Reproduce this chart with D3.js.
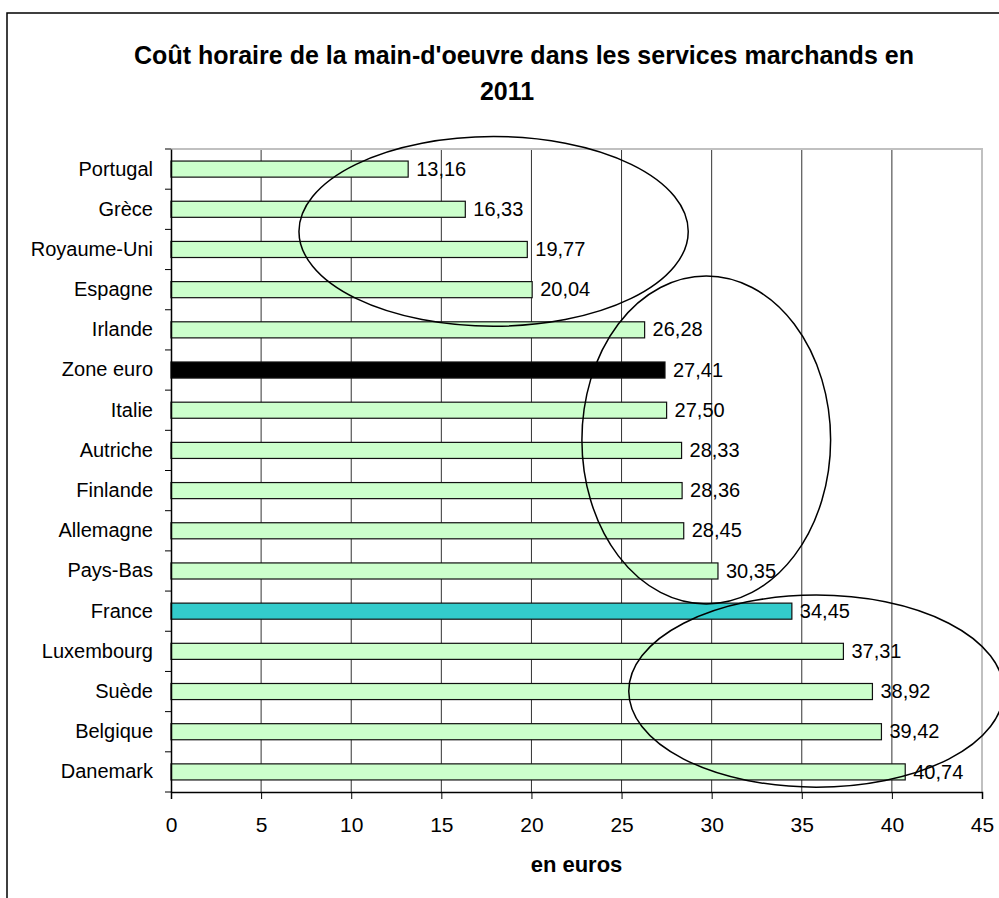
<!DOCTYPE html>
<html>
<head>
<meta charset="utf-8">
<script src="https://cdn.jsdelivr.net/npm/d3@7"></script>
<style>
  body { margin: 0; background: #fff; }
  svg { display: block; font-family: "Liberation Sans", Arial, sans-serif; }
</style>
</head>
<body>
<div id="chart"></div>
<script>
/* Données */
var categories = ["Portugal", "Grèce", "Royaume-Uni", "Espagne", "Irlande", "Zone euro", "Italie", "Autriche",
  "Finlande", "Allemagne", "Pays-Bas", "France", "Luxembourg", "Suède", "Belgique", "Danemark"];
var values = [13.16, 16.33, 19.77, 20.04, 26.28, 27.41, 27.50, 28.33, 28.36, 28.45, 30.35, 34.45, 37.31, 38.92, 39.42, 40.74];
var xTicks = [0, 5, 10, 15, 20, 25, 30, 35, 40, 45];
var titleLines = ["Coût horaire de la main-d'oeuvre dans les services marchands en", "2011"];
var xTitle = "en euros";
/* Ellipses d'annotation : centre (valeur, index de catégorie), rayons (valeur, catégories) */
var ellCx = [17.9, 29.7, 35.8];
var ellCy = [1.55, 6.74, 12.99];
var ellRx = [10.8, 6.9, 10.4];
var ellRy = [2.36, 4.08, 2.39];

var W = 999, H = 898;
var margin = {top: 149, right: 17, bottom: 106, left: 171};

var svg = d3.select("#chart").append("svg").attr("width", W).attr("height", H);

/* Cadre extérieur */
svg.append("rect").attr("x", 7).attr("y", 13).attr("width", 1010).attr("height", 910)
  .attr("fill", "none").attr("stroke", "#000").attr("stroke-width", 1.5);

var x = d3.scaleLinear().domain([0, 45]).range([margin.left, W - margin.right]);
var y = d3.scaleBand().domain(categories).range([margin.top, H - margin.bottom]);

var fr = d3.formatLocale({decimal: ",", thousands: " ", grouping: [3], currency: ["", "€"]});
var fmt = fr.format(".2f");

/* Titre */
var titleX = [524, 507];
svg.append("g").selectAll("text").data(titleLines).enter().append("text")
  .attr("x", function(d, i) { return titleX[i]; }).attr("y", function(d, i) { return 64 + i * 36; })
  .attr("text-anchor", "middle").attr("font-size", "25px").attr("font-weight", "bold")
  .text(function(d) { return d; });

/* Grille */
svg.append("g").selectAll("line").data(xTicks.slice(1, -1)).enter().append("line")
  .attr("x1", function(d) { return x(d); }).attr("x2", function(d) { return x(d); })
  .attr("y1", margin.top).attr("y2", H - margin.bottom)
  .attr("stroke", "#333").attr("stroke-width", 1);

/* Bord de la zone de traçage (haut et droite) */
svg.append("path")
  .attr("d", "M" + x(0) + "," + margin.top + "H" + x(45) + "V" + (H - margin.bottom))
  .attr("fill", "none").attr("stroke", "#c0c0c0").attr("stroke-width", 2);

/* Barres */
var barH = y.bandwidth() * 0.4;
svg.append("g").selectAll("rect").data(values).enter().append("rect")
  .attr("x", x(0))
  .attr("y", function(d, i) { return y(categories[i]) + (y.bandwidth() - barH) / 2; })
  .attr("width", function(d) { return x(d) - x(0); })
  .attr("height", barH)
  .attr("fill", function(d, i) {
    if (categories[i] == "Zone euro") return "#000";
    if (categories[i] == "France") return "#33cccc";
    return "#ccffcc";
  })
  .attr("stroke", "#111").attr("stroke-width", 1.2);

/* Étiquettes de valeurs */
svg.append("g").selectAll("text").data(values).enter().append("text")
  .attr("x", function(d) { return x(d) + 8; })
  .attr("y", function(d, i) { return y(categories[i]) + y.bandwidth() / 2; })
  .attr("dy", "0.33em").attr("font-size", "20px")
  .text(function(d) { return fmt(d); });

/* Axe X */
var xAxis = svg.append("g").attr("transform", "translate(0," + (H - margin.bottom) + ")")
  .call(d3.axisBottom(x).tickValues(xTicks).tickSize(7).tickPadding(18).tickFormat(d3.format("d")));
xAxis.select(".domain").attr("stroke", "#000").attr("stroke-width", 1.5);
xAxis.selectAll("text").attr("font-size", "21px").attr("font-family", "Liberation Sans, Arial, sans-serif").attr("fill", "#000");

/* Axe Y */
var yAxis = svg.append("g").attr("transform", "translate(" + margin.left + ",0)")
  .call(d3.axisLeft(y).tickSize(0).tickPadding(18));
yAxis.select(".domain").attr("stroke", "#000").attr("stroke-width", 1.5);
yAxis.selectAll("text").attr("font-size", "20px").attr("font-family", "Liberation Sans, Arial, sans-serif").attr("fill", "#000");
/* graduations entre catégories */
var bounds = categories.map(function(c) { return y(c); }).concat([H - margin.bottom]);
svg.append("g").selectAll("line").data(bounds).enter().append("line")
  .attr("x1", margin.left - 6).attr("x2", margin.left)
  .attr("y1", function(d) { return d; }).attr("y2", function(d) { return d; })
  .attr("stroke", "#000").attr("stroke-width", 1);

/* Titre de l'axe X */
svg.append("text").attr("x", (x(0) + x(45)) / 2).attr("y", 872)
  .attr("text-anchor", "middle").attr("font-size", "22px").attr("font-weight", "bold")
  .text(xTitle);

/* Ellipses */
var step = y.step();
svg.append("g").selectAll("ellipse").data(ellCx).enter().append("ellipse")
  .attr("cx", function(d) { return x(d); })
  .attr("cy", function(d, i) { return margin.top + (ellCy[i] + 0.5) * step; })
  .attr("rx", function(d, i) { return x(ellRx[i]) - x(0); })
  .attr("ry", function(d, i) { return ellRy[i] * step; })
  .attr("fill", "none").attr("stroke", "#000").attr("stroke-width", 1.5);
</script>
</body>
</html>
